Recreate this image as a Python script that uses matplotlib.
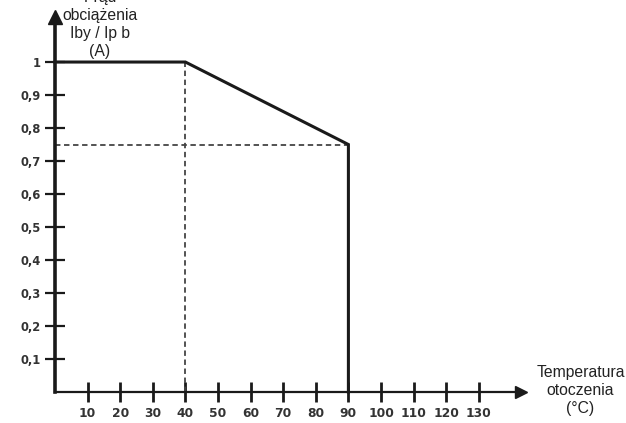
import matplotlib.pyplot as plt

# derating curve: load current ratio vs ambient temperature
temp = [0, 40, 90, 90]
ratio = [1.0, 1.0, 0.75, 0.0]
knee_temp = 40
end_temp = 90
end_ratio = 0.75

x_ticks = [10, 20, 30, 40, 50, 60, 70, 80, 90, 100, 110, 120, 130]
y_ticks = [0.1, 0.2, 0.3, 0.4, 0.5, 0.6, 0.7, 0.8, 0.9, 1.0]
y_labels = ["0,1", "0,2", "0,3", "0,4", "0,5", "0,6", "0,7", "0,8", "0,9", "1"]

ink = "#1a1a1a"
plt.rcParams['font.family'] = ['Liberation Sans', 'DejaVu Sans']

fig = plt.figure(figsize=(6.26, 4.23), dpi=100)
ax = fig.add_axes([0, 0, 1, 1])
ax.set_xlim(-16.87, 175.15)
ax.set_ylim(-0.094, 1.188)

for s in ("top", "right"):
    ax.spines[s].set_visible(False)
ax.spines["left"].set_position(("data", 0))
ax.spines["bottom"].set_position(("data", 0))
ax.spines["left"].set_bounds(0, 1.13)
ax.spines["bottom"].set_bounds(0, 142)
ax.spines["left"].set_linewidth(2.6)
ax.spines["bottom"].set_linewidth(1.6)
ax.spines["left"].set_color(ink)
ax.spines["bottom"].set_color(ink)

# arrow heads
ax.plot(143, 0, ">", ms=9, color=ink, clip_on=False)
ax.plot(0, 1.135, "^", ms=10, color=ink, clip_on=False)

ax.set_xticks(x_ticks)
ax.set_xticklabels([str(v) for v in x_ticks], fontsize=8.8, fontweight="bold",
                   family="DejaVu Sans", color="#333333")
ax.set_yticks(y_ticks)
ax.set_yticklabels(y_labels, fontsize=8.3, fontweight="bold",
                   family="DejaVu Sans", color="#333333")
ax.tick_params(axis="x", direction="inout", length=15, width=2, color=ink, pad=3)
ax.tick_params(axis="y", direction="inout", length=14, width=1.6, color=ink, pad=3)

# guide lines
ax.plot([knee_temp, knee_temp], [0, 1.0], ls=(0, (3, 2)), lw=1.3, color="#444444")
ax.plot([0, end_temp], [end_ratio, end_ratio], ls=(0, (3, 2)), lw=1.3, color="#444444")

ax.plot(temp, ratio, color=ink, lw=2.2, solid_joinstyle="miter")

ax.text(161.2, -0.072, "Temperatura\notoczenia\n(°C)", ha="center", va="bottom",
        fontsize=11.3, color="#222222", linespacing=1.25)
ax.text(13.8, 1.009, "Prąd\nobciążenia\nIby / Ip b\n(A)", ha="center", va="bottom",
        fontsize=11.3, color="#222222", linespacing=1.25)

fig.savefig("out.png", dpi=100)
